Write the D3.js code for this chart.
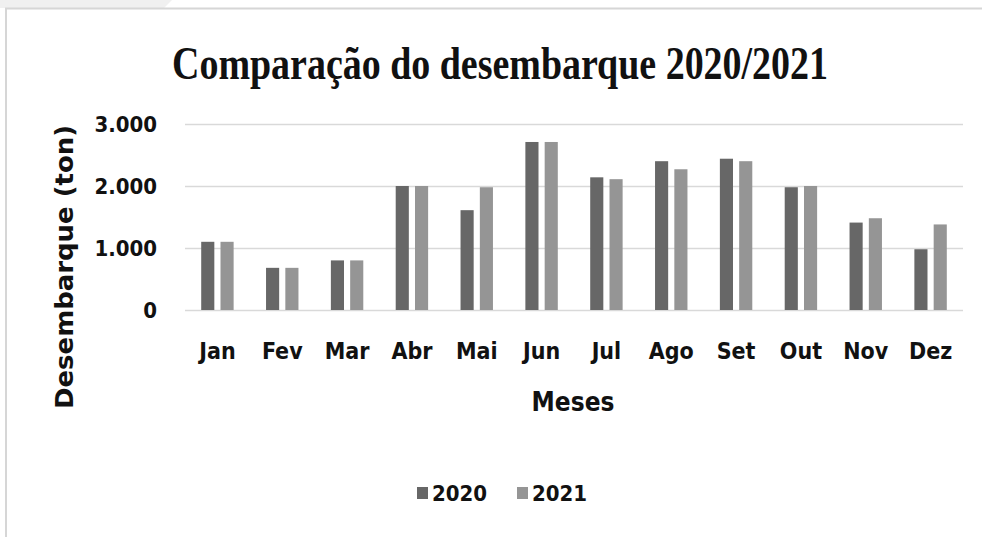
<!DOCTYPE html>
<html>
<head>
<meta charset="utf-8">
<script src="https://cdn.jsdelivr.net/npm/d3@7"></script>
<style>
  body { margin: 0; background: #fff; }
  text { font-family: "DejaVu Sans Condensed", "DejaVu Sans", sans-serif; font-weight: bold; fill: #111; }
</style>
</head>
<body>
<div id="chart"></div>
<script>
const meses = ["Jan", "Fev", "Mar", "Abr", "Mai", "Jun", "Jul", "Ago", "Set", "Out", "Nov", "Dez"];
const anos = ["2020", "2021"];
const desembarque2020 = [1100, 680, 800, 2000, 1610, 2710, 2140, 2400, 2440, 1980, 1410, 980];
const desembarque2021 = [1100, 680, 800, 2000, 1980, 2710, 2110, 2270, 2400, 2000, 1480, 1380];
const yTicks = [0, 1000, 2000, 3000];
const cores = ["#676767", "#959595"];

const width = 982,
  height = 537;
const plot = { left: 185, right: 963, top: 124, bottom: 310 };

const svg = d3.select("#chart")
  .append("svg")
  .attr("width", width)
  .attr("height", height);

// moldura do print
svg.append("polygon")
  .attr("points", "0,0 172,0 164,8 0,8")
  .attr("fill", "#f0f0f0");
svg.append("line")
  .attr("x1", 5).attr("x2", width)
  .attr("y1", 8.5).attr("y2", 8.5)
  .style("stroke", "#d6d6d6")
  .style("stroke-width", 2);
svg.append("line")
  .attr("x1", 6).attr("x2", 6)
  .attr("y1", 8).attr("y2", height)
  .style("stroke", "#d6d6d6")
  .style("stroke-width", 2);

const data = meses.map((m, i) => ({ mes: m, valores: [desembarque2020[i], desembarque2021[i]] }));

const x0 = d3.scaleBand()
  .domain(meses)
  .range([plot.left, plot.right])
  .paddingInner(0.5)
  .paddingOuter(0.25);

const x1 = d3.scaleBand()
  .domain(anos)
  .range([0, x0.bandwidth()])
  .paddingInner(0.32);

const y = d3.scaleLinear()
  .domain([0, 3000])
  .range([plot.bottom, plot.top]);

const ptBR = d3.formatLocale({ decimal: ",", thousands: ".", grouping: [3], currency: ["R$", ""] });

// grade
svg.append("g")
  .selectAll("line")
  .data(yTicks)
  .enter()
  .append("line")
  .attr("x1", plot.left)
  .attr("x2", plot.right)
  .attr("y1", d => Math.round(y(d)) + 0.5)
  .attr("y2", d => Math.round(y(d)) + 0.5)
  .style("stroke", "#d9d9d9")
  .style("stroke-width", 1.5);

// eixo y
const yAxis = svg.append("g")
  .attr("transform", `translate(${plot.left},0)`)
  .call(d3.axisLeft(y).tickValues(yTicks).tickSize(0).tickPadding(28).tickFormat(ptBR.format(",d")));
yAxis.select(".domain").remove();
yAxis.selectAll("text")
  .style("font-family", null)
  .attr("font-size", 22);

// barras
svg.append("g")
  .selectAll("g")
  .data(data)
  .enter()
  .append("g")
  .attr("transform", d => `translate(${x0(d.mes)},0)`)
  .selectAll("rect")
  .data(d => d.valores.map((v, j) => ({ ano: anos[j], v: v })))
  .enter()
  .append("rect")
  .attr("x", d => x1(d.ano))
  .attr("y", d => y(d.v))
  .attr("width", x1.bandwidth())
  .attr("height", d => y(0) - y(d.v))
  .attr("fill", (d, j) => cores[j]);

// eixo x
const xAxis = svg.append("g")
  .attr("transform", `translate(0,${plot.bottom})`)
  .call(d3.axisBottom(x0).tickSize(0).tickPadding(33));
xAxis.select(".domain").remove();
xAxis.selectAll("text")
  .style("font-family", null)
  .attr("font-size", 23);

// titulo
svg.append("text")
  .attr("x", 500)
  .attr("y", 79)
  .attr("text-anchor", "middle")
  .attr("textLength", 656)
  .attr("lengthAdjust", "spacingAndGlyphs")
  .style("font-family", "'Liberation Serif', 'Times New Roman', serif")
  .style("font-size", "46px")
  .text("Comparação  do  desembarque  2020/2021");

// titulos dos eixos
svg.append("text")
  .attr("x", 573)
  .attr("y", 411)
  .attr("text-anchor", "middle")
  .style("font-size", "26px")
  .text("Meses");

svg.append("text")
  .attr("transform", "translate(73,267) rotate(-90)")
  .attr("text-anchor", "middle")
  .attr("textLength", 284)
  .attr("lengthAdjust", "spacingAndGlyphs")
  .style("font-size", "25px")
  .text("Desembarque (ton)");

// legenda
const legend = svg.append("g")
  .selectAll("g")
  .data(anos)
  .enter()
  .append("g")
  .attr("transform", (d, i) => `translate(${417 + i * 100},487)`);
legend.append("rect")
  .attr("width", 11)
  .attr("height", 12)
  .attr("fill", (d, i) => cores[i]);
legend.append("text")
  .attr("x", 15)
  .attr("y", 14)
  .style("font-size", "22px")
  .text(d => d);
</script>
</body>
</html>
